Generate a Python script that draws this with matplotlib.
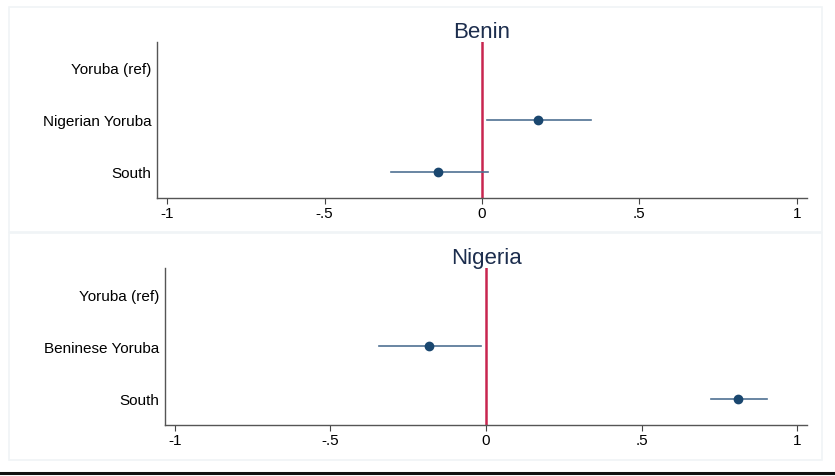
import matplotlib
matplotlib.use('Agg')
import matplotlib.pyplot as plt
import matplotlib.patches as mpatches
import matplotlib.lines as mlines

plt.rcParams['font.family'] = ['Liberation Sans', 'DejaVu Sans']

# categories, top to bottom
benin_labels = ['Yoruba (ref)', 'Nigerian Yoruba', 'South']
nigeria_labels = ['Yoruba (ref)', 'Beninese Yoruba', 'South']

# point estimates and confidence bounds (reference category has none)
benin_est = [None, 0.177, -0.139]
benin_lo = [None, 0.015, -0.290]
benin_hi = [None, 0.345, 0.018]

nigeria_est = [None, -0.182, 0.810]
nigeria_lo = [None, -0.343, 0.724]
nigeria_hi = [None, -0.015, 0.903]

x_ticks = [-1, -0.5, 0, 0.5, 1]
x_tick_labels = ['-1', '-.5', '0', '.5', '1']

navy = '#1a476f'
ci_color = '#4f7192'
red = '#c8254f'
title_color = '#1c2d4d'
panel_edge = '#f0f4f6'

fig = plt.figure(figsize=(8.35, 4.77), dpi=100)
fig.patch.set_facecolor('white')

# light panel boxes around each subplot
for y0, h in [(0.5115, 0.4717), (0.0335, 0.4760)]:
    fig.add_artist(mpatches.Rectangle((0.0108, y0), 0.9737, h, transform=fig.transFigure,
                                      facecolor='white', edgecolor=panel_edge, linewidth=1.2,
                                      zorder=0))

# dark line at the very bottom
fig.add_artist(mlines.Line2D([0, 1], [0.0055, 0.0055], transform=fig.transFigure,
                             color='#111111', linewidth=2.2))

ax_top = fig.add_axes([0.188, 0.5828, 0.7784, 0.3271])
ax_bot = fig.add_axes([0.1976, 0.1069, 0.7689, 0.3292])


def draw_panel(ax, title, labels, est, lo, hi):
    positions = [3, 2, 1]
    ax.axvline(0, color=red, linewidth=1.8, zorder=1)
    for pos, e, l, h in zip(positions, est, lo, hi):
        if e is None:
            continue
        ax.plot([l, h], [pos, pos], color=ci_color, linewidth=1.2, zorder=2)
        ax.plot(e, pos, 'o', color=navy, markersize=6, zorder=3)
    ax.set_xlim(-1.032, 1.032)
    ax.set_ylim(0.5, 3.5)
    ax.set_yticks(positions)
    ax.set_yticklabels(labels, fontsize=11)
    ax.set_xticks(x_ticks)
    ax.set_xticklabels(x_tick_labels, fontsize=11)
    ax.tick_params(axis='y', length=0, pad=4)
    ax.tick_params(axis='x', length=4, width=0.8, color='#444444', pad=2)
    for side in ['top', 'right']:
        ax.spines[side].set_visible(False)
    for side in ['left', 'bottom']:
        ax.spines[side].set_color('#555555')
        ax.spines[side].set_linewidth(1.0)
    ax.set_facecolor('white')
    ax.set_title(title, fontsize=16, color=title_color, pad=3)


draw_panel(ax_top, 'Benin', benin_labels, benin_est, benin_lo, benin_hi)
draw_panel(ax_bot, 'Nigeria', nigeria_labels, nigeria_est, nigeria_lo, nigeria_hi)

fig.savefig('out.png', dpi=100, facecolor='white')
